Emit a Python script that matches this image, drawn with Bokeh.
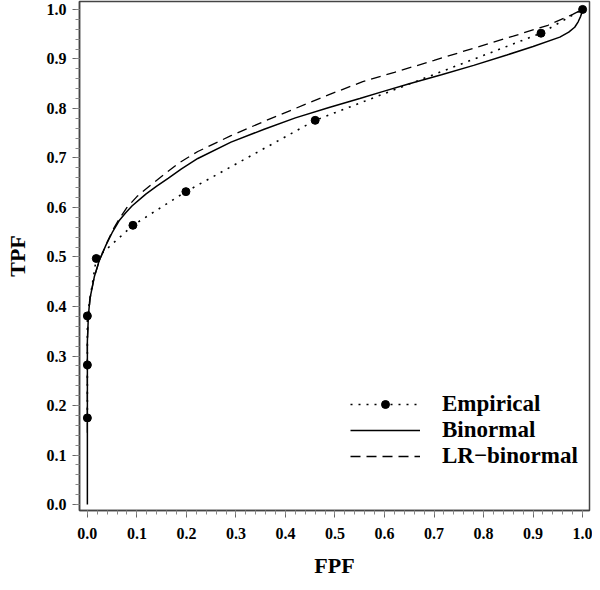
from bokeh.plotting import figure
from bokeh.models import Range1d, FixedTicker, Legend, LegendItem
from bokeh.embed import file_html
from bokeh.resources import INLINE

# Empirical operating points
emp_fpf = [0.0, 0.0, 0.0, 0.018, 0.092, 0.199, 0.46, 0.916, 1.0]
emp_tpf = [0.175, 0.282, 0.381, 0.497, 0.564, 0.632, 0.776, 0.952, 1.0]

# Binormal fitted curve
bin_fpf = [0.0, 0.0, 0.0, 0.002, 0.005, 0.014, 0.024, 0.038, 0.05, 0.064, 0.077, 0.09, 0.118,
           0.14, 0.163, 0.19, 0.223, 0.29, 0.357, 0.42, 0.488, 0.55, 0.596, 0.65, 0.715,
           0.78, 0.847, 0.9, 0.954, 0.972, 0.984, 0.991, 0.996, 0.999, 1.0]
bin_tpf = [0.0, 0.2, 0.33, 0.38, 0.415, 0.46, 0.493, 0.525, 0.549, 0.573, 0.589, 0.603, 0.627,
           0.643, 0.659, 0.678, 0.699, 0.732, 0.758, 0.781, 0.802, 0.82, 0.834, 0.85, 0.868,
           0.887, 0.908, 0.925, 0.944, 0.954, 0.964, 0.975, 0.986, 0.995, 1.0]

# LR-binormal fitted curve
lr_fpf = [0.0, 0.0, 0.002, 0.006, 0.014, 0.025, 0.04, 0.052, 0.065, 0.08, 0.1, 0.125, 0.149,
          0.185, 0.223, 0.29, 0.357, 0.42, 0.488, 0.556, 0.62, 0.7, 0.781, 0.86, 0.93, 0.98, 1.0]
lr_tpf = [0.145, 0.33, 0.38, 0.42, 0.46, 0.495, 0.53, 0.556, 0.578, 0.6, 0.622, 0.643, 0.662,
          0.69, 0.713, 0.745, 0.774, 0.80, 0.828, 0.854, 0.873, 0.897, 0.922, 0.946, 0.968, 0.99, 1.0]

major_ticks = [0.0, 0.1, 0.2, 0.3, 0.4, 0.5, 0.6, 0.7, 0.8, 0.9, 1.0]
tick_labels = ["0.0", "0.1", "0.2", "0.3", "0.4", "0.5", "0.6", "0.7", "0.8", "0.9", "1.0"]
minor_ticks = [round(i * 0.02, 2) for i in range(51)]

legend_labels = ["Empirical", "Binormal", "LR\u2212binormal"]

FONT = "Liberation Serif"

p = figure(width=592, height=582, output_backend="svg", toolbar_location=None,
           x_range=Range1d(-0.0159, 1.0139), y_range=Range1d(-0.012, 1.016),
           min_border_left=79, min_border_right=3, min_border_top=1, min_border_bottom=72)
p.background_fill_color = "white"
p.border_fill_color = "white"
p.grid.visible = False
p.outline_line_color = "#444444"
p.outline_line_width = 1.5

for ax in (p.xaxis[0], p.yaxis[0]):
    ax.ticker = FixedTicker(ticks=major_ticks, minor_ticks=minor_ticks)
    ax.major_label_overrides = {t: l for t, l in zip(major_ticks, tick_labels)}
    ax.major_label_text_font = FONT
    ax.major_label_text_font_style = "bold"
    ax.major_label_text_font_size = "16px"
    ax.major_label_text_color = "black"
    ax.axis_label_text_font = FONT
    ax.axis_label_text_font_style = "bold"
    ax.axis_label_text_font_size = "22px"
    ax.axis_label_text_color = "black"
    ax.axis_line_color = "#444444"
    ax.axis_line_width = 1.5
    ax.major_tick_line_color = "#666666"
    ax.minor_tick_line_color = "#888888"
    ax.major_tick_in = 0
    ax.major_tick_out = 7
    ax.minor_tick_in = 0
    ax.minor_tick_out = 4

p.xaxis.axis_label = "FPF"
p.yaxis.axis_label = "TPF"
p.xaxis.major_label_standoff = 10
p.xaxis.axis_label_standoff = 11
p.yaxis.major_label_standoff = 6
p.yaxis.axis_label_standoff = 14

r_bin = p.line(bin_fpf, bin_tpf, line_color="black", line_width=1.5)
r_lr = p.line(lr_fpf, lr_tpf, line_color="black", line_width=1.3, line_dash="10 6")
r_emp_line = p.line(emp_fpf, emp_tpf, line_color="black", line_width=1.6, line_dash="2 6")
r_emp_pts = p.scatter(emp_fpf, emp_tpf, size=8, marker="circle", fill_color="black", line_color="black")

legend = Legend(items=[
    LegendItem(label=legend_labels[0], renderers=[r_emp_line, r_emp_pts]),
    LegendItem(label=legend_labels[1], renderers=[r_bin]),
    LegendItem(label=legend_labels[2], renderers=[r_lr]),
], location=(271, 41))
legend.border_line_color = None
legend.background_fill_alpha = 0
legend.padding = 0
legend.margin = 0
legend.spacing = -5
legend.glyph_width = 70
legend.glyph_height = 20
legend.label_height = 20
legend.label_standoff = 22
legend.label_text_font = FONT
legend.label_text_font_style = "bold"
legend.label_text_font_size = "23px"
legend.label_text_color = "black"
p.add_layout(legend)

open("out.html", "w").write(file_html(p, INLINE))
